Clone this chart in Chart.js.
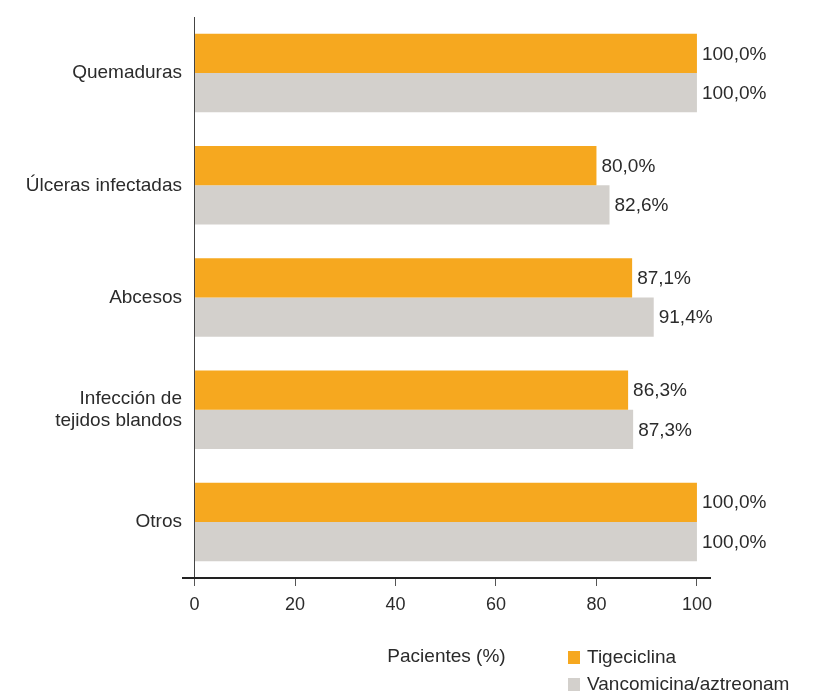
<!DOCTYPE html>
<html>
<head>
<meta charset="utf-8">
<script src="https://cdn.jsdelivr.net/npm/chart.js@4"></script>
<style>
  body { margin: 0; background: #fff; }
  #wrap { position: relative; width: 828px; height: 698px; }
  .leg { position: absolute; left: 568px; font: 19px "Liberation Sans", Arial, sans-serif; color: #2b2b2b; }
  .leg span { display: inline-block; width: 12px; height: 13px; margin-right: 7px; vertical-align: -1px; }
</style>
</head>
<body>
<div id="wrap">
  <canvas id="c" width="828" height="698"></canvas>
  <div class="leg" style="top:646px"><span style="background:#f6a81f"></span>Tigeciclina</div>
  <div class="leg" style="top:673px"><span style="background:#d3d0cc"></span>Vancomicina/aztreonam</div>
</div>
<script>
// categories and series
const categories = ["Quemaduras", "Úlceras infectadas", "Abcesos", ["Infección de", "tejidos blandos"], "Otros"];
const tigeciclina = [100.0, 80.0, 87.1, 86.3, 100.0];
const vancomicina = [100.0, 82.6, 91.4, 87.3, 100.0];
const xTicks = [0, 20, 40, 60, 80, 100];

const textColor = "#2b2b2b";
const fontFamily = '"Liberation Sans", Arial, sans-serif';

// draws "80,0%" style labels at the end of every bar
const valueLabels = {
    id: "valueLabels",
    afterDatasetsDraw(chart) {
        const ctx = chart.ctx;
        ctx.save();
        ctx.font = "19px " + fontFamily;
        ctx.fillStyle = textColor;
        ctx.textBaseline = "middle";
        ctx.textAlign = "left";
        chart.data.datasets.forEach((ds, i) => {
            chart.getDatasetMeta(i).data.forEach((bar, j) => {
                const txt = ds.data[j].toFixed(1).replace(".", ",") + "%";
                ctx.fillText(txt, bar.x + 5, bar.y + 1);
            });
        });
        ctx.restore();
    }
};

new Chart(document.getElementById("c").getContext("2d"), {
    type: "bar",
    data: {
        labels: categories,
        datasets: [
            { label: "Tigeciclina", data: tigeciclina, backgroundColor: "#f6a81f" },
            { label: "Vancomicina/aztreonam", data: vancomicina, backgroundColor: "#d3d0cc" }
        ]
    },
    options: {
        indexAxis: "y",
        responsive: false,
        animation: false,
        layout: { padding: { top: 17, right: 118, bottom: 26, left: 0 } },
        categoryPercentage: 0.7,
        barPercentage: 1.0,
        plugins: { legend: { display: false }, tooltip: { enabled: false } },
        scales: {
            x: {
                min: -2.3,
                max: 102.6,
                afterBuildTicks: (scale) => { scale.ticks = xTicks.map(v => ({ value: v })); },
                afterFit: (scale) => { scale.height = 94; },
                border: { display: true, color: "#222", width: 2 },
                grid: {
                    drawOnChartArea: true,
                    color: (ctx) => (ctx.tick && ctx.tick.value === 0 ? "#444" : "rgba(0,0,0,0)"),
                    lineWidth: 1,
                    tickColor: "#555",
                    tickLength: 8
                },
                ticks: { color: textColor, font: { family: fontFamily, size: 18 }, padding: 8 },
                title: {
                    display: true,
                    text: "Pacientes (%)",
                    color: textColor,
                    font: { family: fontFamily, size: 19 },
                    padding: { top: 30 }
                }
            },
            y: {
                afterFit: (scale) => { scale.width = 183; },
                grid: { display: false, drawTicks: false },
                border: { display: false },
                ticks: { color: textColor, font: { family: fontFamily, size: 19 }, padding: 1 }
            }
        }
    },
    plugins: [valueLabels]
});
</script>
</body>
</html>
